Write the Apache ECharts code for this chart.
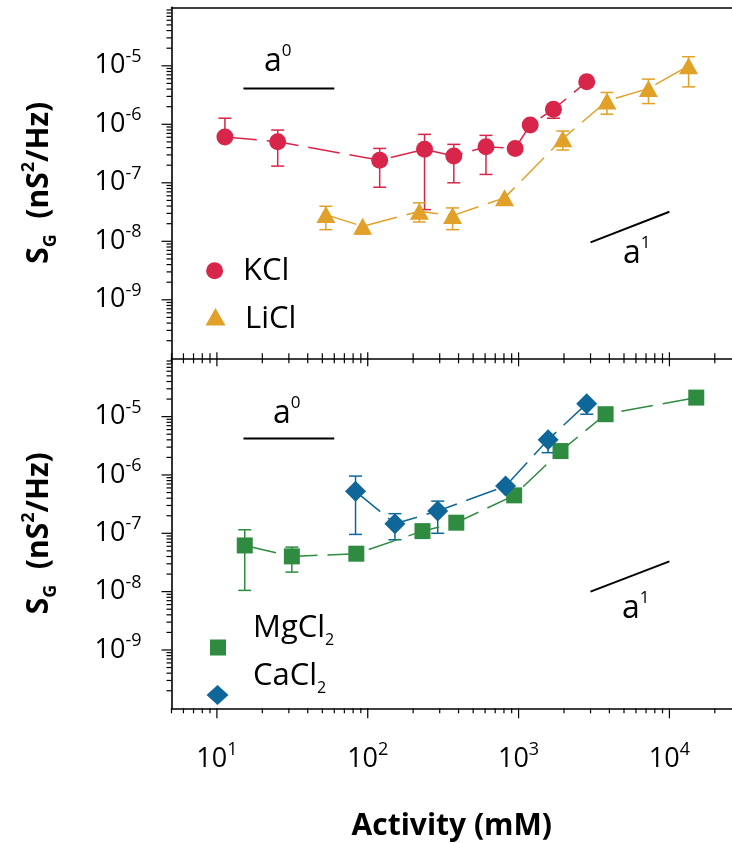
<!DOCTYPE html>
<html><head><meta charset="utf-8">
<script src="https://cdn.jsdelivr.net/npm/echarts@6/dist/echarts.min.js"></script>
<style>html,body{margin:0;padding:0;background:#fff}#c{width:732px;height:843px}</style>
</head><body><div id="c"></div>
<script>
// ---------- data (Activity in mM, S_G in nS^2/Hz) ----------
const kclX  = [11.3, 25.3, 120, 238, 372, 608, 949, 1194, 1703, 2830];
const kclY  = [6.05e-7, 5.05e-7, 2.44e-7, 3.73e-7, 2.86e-7, 4.14e-7, 3.87e-7, 9.73e-7, 1.81e-6, 5.32e-6];
const kclLo = [null, 1.93e-7, 8.4e-8, 3.48e-8, 1.0e-7, 1.39e-7, null, null, 1.27e-6, null];
const kclHi = [1.27e-6, 7.97e-7, 3.87e-7, 6.73e-7, 4.54e-7, 6.47e-7, null, null, null, null];

const liclX  = [52.8, 92.5, 220, 365, 807, 1964, 3855, 7262, 13400];
const liclY  = [2.86e-8, 1.8e-8, 3.26e-8, 2.75e-8, 5.53e-8, 5.69e-7, 2.51e-6, 4.09e-6, 1.0e-5];
const liclLo = [1.58e-8, 1.33e-8, 2.14e-8, 1.58e-8, null, 3.63e-7, 1.49e-6, 2.26e-6, 4.36e-6];
const liclHi = [3.97e-8, null, 4.54e-8, 3.72e-8, null, 7.67e-7, 3.5e-6, 5.92e-6, 1.43e-5];

const mgX  = [15.3, 31.4, 84, 230.6, 386.5, 935, 1897, 3776, 15070];
const mgY  = [6.19e-8, 4.02e-8, 4.47e-8, 1.09e-7, 1.52e-7, 4.47e-7, 2.57e-6, 1.1e-5, 2.12e-5];
const mgLo = [1.05e-8, 2.16e-8, null, null, null, null, null, null, null];
const mgHi = [1.15e-7, 5.8e-8, null, null, null, null, null, null, null];

const caX  = [83, 151.4, 291, 820, 1570, 2830];
const caY  = [5.24e-7, 1.46e-7, 2.41e-7, 6.45e-7, 4.03e-6, 1.67e-5];
const caLo = [9.57e-8, 7.76e-8, 1.0e-7, null, 2.41e-6, 1.1e-5];
const caHi = [9.57e-7, 2.17e-7, 3.56e-7, null, null, null];

// reference slope lines (a^0 and a^1), in data coordinates
const slope0Top = [[15, 4.1e-6], [60, 4.1e-6]];
const slope1Top = [[3000, 9.6e-9], [10000, 3.2e-8]];
const slope0Bot = [[15, 4.2e-6], [60, 4.2e-6]];
const slope1Bot = [[3000, 1.0e-8], [10000, 3.3e-8]];

// axes
const xMin = 5, xMax = 26000, yMin = 1e-10, yMax = 1e-4;
const xLabelExps = [1, 2, 3, 4];
const yLabelExps = [-5, -6, -7, -8, -9];
const minorMult = [1, 2, 3, 4, 5, 6, 7, 8, 9];

const FONT = 'Open Sans';
const C_K = '#d7264a', C_LI = '#e1a028', C_MG = '#2e8b40', C_CA = '#0e6699';
const AX_W = 1.6;

// tick value lists (major = powers of ten)
const xTicks = [];
for (let k = 0; k <= 4; k++) for (const m of minorMult) { const v = m * Math.pow(10, k); if (v >= xMin && v < xMax) xTicks.push({ v, major: m === 1 }); }
const yTicks = [];
for (let k = -10; k <= -5; k++) for (const m of minorMult) { const v = m * Math.pow(10, k); if (v > yMin && v < yMax) yTicks.push({ v, major: m === 1 }); }

function isPow(v, list) {
  const l = Math.log10(v), e = Math.round(l);
  return Math.abs(l - e) < 1e-6 && list.indexOf(e) >= 0 ? e : null;
}

function xTickSeries(gi, up, down, upMaj, downMaj) {
  return {
    type: 'custom', xAxisIndex: gi, yAxisIndex: gi, silent: true, z: 5, clip: false,
    data: xTicks.map(t => [t.v, yMin]),
    renderItem(params, api) {
      const t = xTicks[params.dataIndex];
      const p = api.coord([t.v, yMin]);
      const u = t.major ? upMaj : up, d = t.major ? downMaj : down;
      return { type: 'line', shape: { x1: p[0], y1: p[1] - u, x2: p[0], y2: p[1] + d }, style: { stroke: '#000', lineWidth: 1.2 } };
    }
  };
}
function yTickSeries(gi) {
  return {
    type: 'custom', xAxisIndex: gi, yAxisIndex: gi, silent: true, z: 5, clip: false,
    data: yTicks.map(t => [xMin, t.v]),
    renderItem(params, api) {
      const t = yTicks[params.dataIndex];
      const p = api.coord([xMin, t.v]);
      const l = t.major ? 10 : 5;
      return { type: 'line', shape: { x1: p[0] - l, y1: p[1], x2: p[0], y2: p[1] }, style: { stroke: '#000', lineWidth: 1.2 } };
    }
  };
}
function errSeries(gi, xs, ys, los, his, color) {
  return {
    type: 'custom', xAxisIndex: gi, yAxisIndex: gi, silent: true, z: 2,
    data: xs.map((x, i) => [x, ys[i]]),
    renderItem(params, api) {
      const i = params.dataIndex;
      const ch = [];
      const st = { stroke: color, lineWidth: 1.5 };
      const pc = api.coord([xs[i], ys[i]]);
      const w = 6.5;
      if (his[i] != null) {
        const p = api.coord([xs[i], his[i]]);
        ch.push({ type: 'line', shape: { x1: p[0], y1: p[1], x2: pc[0], y2: pc[1] }, style: st });
        ch.push({ type: 'line', shape: { x1: p[0] - w, y1: p[1], x2: p[0] + w, y2: p[1] }, style: st });
      }
      if (los[i] != null) {
        const p = api.coord([xs[i], los[i]]);
        ch.push({ type: 'line', shape: { x1: p[0], y1: p[1], x2: pc[0], y2: pc[1] }, style: st });
        ch.push({ type: 'line', shape: { x1: p[0] - w, y1: p[1], x2: p[0] + w, y2: p[1] }, style: st });
      }
      return { type: 'group', children: ch };
    }
  };
}
function lineSeries(gi, name, xs, ys, color, symbol, size) {
  return {
    type: 'line', name, xAxisIndex: gi, yAxisIndex: gi, z: 3,
    data: xs.map((x, i) => [x, ys[i]]),
    symbol, symbolSize: size, showSymbol: true,
    itemStyle: { color, borderWidth: 0 },
    lineStyle: { color, width: 1.5, type: [32, 10] }
  };
}
function refLine(gi, pts) {
  return { type: 'line', xAxisIndex: gi, yAxisIndex: gi, data: pts, symbol: 'none', z: 4, silent: true,
    lineStyle: { color: '#000', width: 2, type: 'solid' } };
}

const numRich = {
  b: { fontFamily: FONT, fontSize: 27, color: '#000', lineHeight: 36 },
  s: { fontFamily: FONT, fontSize: 18, color: '#000', lineHeight: 20, verticalAlign: 'top' }
};
const yLabel = {
  show: true, margin: 30, showMinLabel: false, showMaxLabel: false,
  formatter: v => { const e = isPow(v, yLabelExps); return e === null ? '' : '{b|10}{s|' + e + '}'; },
  rich: numRich
};
const yName = '{a|S}{g|G}{a|  (nS}{p|2}{a|/Hz)}';
const yNameStyle = {
  rich: {
    a: { fontFamily: FONT, fontWeight: 'bold', fontSize: 30, color: '#000', lineHeight: 40 },
    g: { fontFamily: FONT, fontWeight: 'bold', fontSize: 18, color: '#000', lineHeight: 20, verticalAlign: 'bottom' },
    p: { fontFamily: FONT, fontWeight: 'bold', fontSize: 18, color: '#000', lineHeight: 26, verticalAlign: 'top' }
  }
};
function yAxisCfg(gi) {
  return {
    type: 'log', logBase: 10, gridIndex: gi, min: yMin, max: yMax,
    axisLine: { show: true, lineStyle: { color: '#000', width: AX_W } }, axisTick: { show: false }, splitLine: { show: false },
    minorTick: { show: false }, axisLabel: yLabel,
    name: yName, nameLocation: 'middle', nameRotate: 90, nameGap: 112, nameTextStyle: yNameStyle
  };
}
const axLine = { show: true, onZero: false, lineStyle: { color: '#000', width: AX_W } };

const option = {
  animation: false,
  backgroundColor: '#fff',
  grid: [
    { left: 171.5, top: 7.3, width: 560.5, height: 351, outerBoundsMode: 'none', containLabel: false },
    { left: 171.5, top: 358.3, width: 560.5, height: 350, outerBoundsMode: 'none', containLabel: false }
  ],
  xAxis: [
    { type: 'log', logBase: 10, gridIndex: 0, min: xMin, max: xMax, axisLine: axLine, axisTick: { show: false },
      axisLabel: { show: false }, splitLine: { show: false } },
    { type: 'log', logBase: 10, gridIndex: 1, min: xMin, max: xMax, axisLine: axLine, axisTick: { show: false },
      splitLine: { show: false },
      axisLabel: {
        show: true, margin: 33,
        formatter: v => { const e = isPow(v, xLabelExps); return e === null ? '' : '{b|10}{s|' + e + '}'; },
        rich: numRich
      },
      name: 'Activity (mM)', nameLocation: 'middle', nameGap: 103,
      nameTextStyle: { fontFamily: FONT, fontWeight: 'bold', fontSize: 30, color: '#000' }
    },
    { type: 'log', logBase: 10, gridIndex: 0, position: 'top', min: xMin, max: xMax, axisLine: axLine, axisTick: { show: false },
      axisLabel: { show: false }, splitLine: { show: false } }
  ],
  yAxis: [yAxisCfg(0), yAxisCfg(1)],
  series: [
    xTickSeries(0, 5, 5, 6, 8), yTickSeries(0),
    xTickSeries(1, 0, 5, 0, 10), yTickSeries(1),
    errSeries(0, kclX, kclY, kclLo, kclHi, C_K),
    errSeries(0, liclX, liclY, liclLo, liclHi, C_LI),
    errSeries(1, mgX, mgY, mgLo, mgHi, C_MG),
    errSeries(1, caX, caY, caLo, caHi, C_CA),
    lineSeries(0, 'KCl', kclX, kclY, C_K, 'circle', 17),
    lineSeries(0, 'LiCl', liclX, liclY, C_LI, 'triangle', [19, 17]),
    lineSeries(1, 'MgCl2', mgX, mgY, C_MG, 'rect', 16),
    lineSeries(1, 'CaCl2', caX, caY, C_CA, 'diamond', [21, 21]),
    refLine(0, slope0Top), refLine(0, slope1Top), refLine(1, slope0Bot), refLine(1, slope1Bot)
  ],
  graphic: [
    // legend (top)
    { type: 'circle', shape: { cx: 214.6, cy: 270.7, r: 8.5 }, style: { fill: C_K } },
    { type: 'text', x: 243, y: 271, style: { text: 'KCl', fontFamily: FONT, fontSize: 31, fill: '#000', verticalAlign: 'middle' } },
    { type: 'polygon', shape: { points: [[215.5, 308], [225.5, 325.5], [205.5, 325.5]] }, style: { fill: C_LI } },
    { type: 'text', x: 245, y: 319, style: { text: 'LiCl', fontFamily: FONT, fontSize: 31, fill: '#000', verticalAlign: 'middle' } },
    // legend (bottom)
    { type: 'rect', shape: { x: 210, y: 639.5, width: 16, height: 16 }, style: { fill: C_MG } },
    { type: 'text', x: 253, y: 628, style: { text: '{a|MgCl}{s|2}', verticalAlign: 'middle',
      rich: { a: { fontFamily: FONT, fontSize: 31, fill: '#000', lineHeight: 40 }, s: { fontFamily: FONT, fontSize: 16, fill: '#000', lineHeight: 14, verticalAlign: 'bottom' } } } },
    { type: 'polygon', shape: { points: [[217.5, 685], [228.5, 695], [217.5, 705], [206.5, 695]] }, style: { fill: C_CA } },
    { type: 'text', x: 253, y: 676, style: { text: '{a|CaCl}{s|2}', verticalAlign: 'middle',
      rich: { a: { fontFamily: FONT, fontSize: 31, fill: '#000', lineHeight: 40 }, s: { fontFamily: FONT, fontSize: 16, fill: '#000', lineHeight: 14, verticalAlign: 'bottom' } } } },
    // slope annotations
    { type: 'text', x: 264, y: 62, style: { text: '{a|a}{s|0}', verticalAlign: 'middle',
      rich: { a: { fontFamily: FONT, fontSize: 32, fill: '#000', lineHeight: 38 }, s: { fontFamily: FONT, fontSize: 17, fill: '#000', lineHeight: 20, verticalAlign: 'top' } } } },
    { type: 'text', x: 623, y: 254, style: { text: '{a|a}{s|1}', verticalAlign: 'middle',
      rich: { a: { fontFamily: FONT, fontSize: 32, fill: '#000', lineHeight: 38 }, s: { fontFamily: FONT, fontSize: 17, fill: '#000', lineHeight: 20, verticalAlign: 'top' } } } },
    { type: 'text', x: 273, y: 414, style: { text: '{a|a}{s|0}', verticalAlign: 'middle',
      rich: { a: { fontFamily: FONT, fontSize: 32, fill: '#000', lineHeight: 38 }, s: { fontFamily: FONT, fontSize: 17, fill: '#000', lineHeight: 20, verticalAlign: 'top' } } } },
    { type: 'text', x: 622, y: 609, style: { text: '{a|a}{s|1}', verticalAlign: 'middle',
      rich: { a: { fontFamily: FONT, fontSize: 32, fill: '#000', lineHeight: 38 }, s: { fontFamily: FONT, fontSize: 17, fill: '#000', lineHeight: 20, verticalAlign: 'top' } } } }
  ]
};
const chart = echarts.init(document.getElementById('c'), null, { renderer: 'canvas' });
chart.setOption(option);
</script></body></html>
